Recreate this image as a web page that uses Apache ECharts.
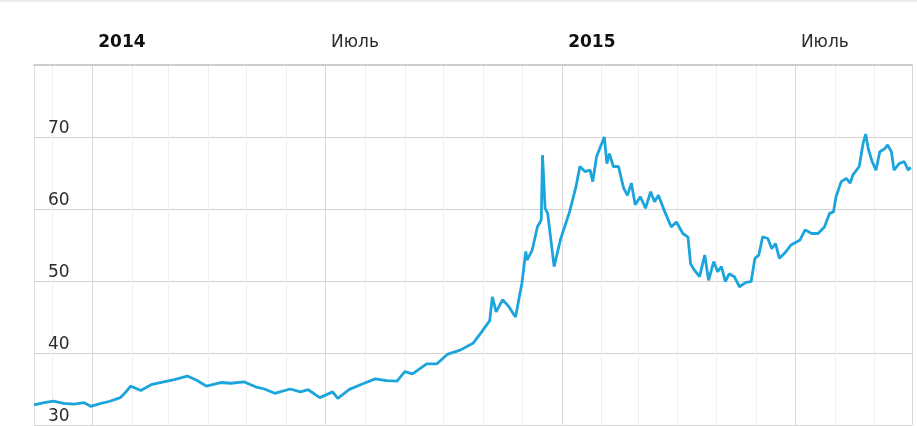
<!DOCTYPE html>
<html><head><meta charset="utf-8">
<script src="https://cdn.jsdelivr.net/npm/echarts@6/dist/echarts.min.js"></script>
<style>html,body{margin:0;padding:0;background:#fff}#c{width:917px;height:426px}</style>
</head><body><div id="c"></div>
<script>
const dates = ['2013-11-17','2013-11-25','2013-12-02','2013-12-10','2013-12-18','2013-12-26','2013-12-31',
'2014-01-08','2014-01-15','2014-01-23','2014-01-27','2014-01-31','2014-02-08','2014-02-16','2014-02-23',
'2014-03-06','2014-03-16','2014-03-23','2014-03-31','2014-04-11','2014-04-19','2014-04-29','2014-05-08',
'2014-05-15','2014-05-23','2014-06-04','2014-06-12','2014-06-18','2014-06-27','2014-07-07','2014-07-11',
'2014-07-20','2014-07-30','2014-08-09','2014-08-18','2014-08-26','2014-09-01','2014-09-07','2014-09-18',
'2014-09-26','2014-10-04','2014-10-14','2014-10-24','2014-10-31','2014-11-06','2014-11-08','2014-11-11',
'2014-11-16','2014-11-21','2014-11-26','2014-12-01','2014-12-04','2014-12-05','2014-12-09','2014-12-13',
'2014-12-16','2014-12-17','2014-12-19','2014-12-21','2014-12-26','2014-12-31','2015-01-07','2015-01-12',
'2015-01-15','2015-01-19','2015-01-23','2015-01-25','2015-01-28','2015-02-01','2015-02-03','2015-02-05',
'2015-02-07','2015-02-10','2015-02-14','2015-02-18','2015-02-21','2015-02-24','2015-02-27','2015-03-03',
'2015-03-07','2015-03-11','2015-03-14','2015-03-17','2015-03-22','2015-03-27','2015-03-31','2015-04-05',
'2015-04-09','2015-04-11','2015-04-14','2015-04-18','2015-04-22','2015-04-25','2015-04-29','2015-05-02',
'2015-05-05','2015-05-08','2015-05-11','2015-05-15','2015-05-19','2015-05-24','2015-05-28','2015-05-31',
'2015-06-03','2015-06-06','2015-06-10','2015-06-13','2015-06-16','2015-06-19','2015-06-23','2015-06-28',
'2015-07-05','2015-07-09','2015-07-14','2015-07-19','2015-07-24','2015-07-28','2015-07-31','2015-08-02',
'2015-08-06','2015-08-10','2015-08-13','2015-08-15','2015-08-20','2015-08-23','2015-08-25','2015-08-27',
'2015-08-30','2015-09-02','2015-09-05','2015-09-09','2015-09-11','2015-09-14','2015-09-16','2015-09-20',
'2015-09-24','2015-09-27','2015-09-29'];
const rates = [32.8,33.1,33.3,33.0,32.9,33.1,32.6,
33.0,33.3,33.8,34.5,35.4,34.8,35.6,35.9,
36.3,36.8,36.25,35.4,35.9,35.8,36.0,35.3,
35.0,34.4,35.0,34.6,34.9,33.8,34.6,33.7,
34.95,35.7,36.4,36.15,36.1,37.4,37.1,38.5,
38.5,39.8,40.4,41.35,43.0,44.5,47.8,45.7,
47.4,46.4,45.0,49.7,54.1,52.9,54.3,57.5,
58.5,67.5,60.1,59.4,52.0,55.8,59.6,63.1,
65.9,65.2,65.4,63.8,67.3,69.1,70.0,66.3,
67.7,65.9,65.9,62.9,61.9,63.6,60.6,61.7,
60.1,62.4,61.0,61.9,59.6,57.5,58.2,56.6,
56.1,52.4,51.5,50.6,53.6,50.1,52.7,51.3,
52.0,49.9,51.0,50.6,49.2,49.8,49.9,53.15,
53.6,56.15,55.9,54.5,55.2,53.15,53.85,55.0,
55.7,57.1,56.6,56.6,57.5,59.4,59.6,61.7,
63.8,64.25,63.6,64.7,65.9,69.1,70.4,68.4,
66.6,65.4,67.95,68.4,68.9,67.95,65.4,66.3,
66.6,65.4,65.8];
const xTickDates = ['2014-01-01','2014-07-01','2015-01-01','2015-07-01'];
const xTickLabels = ['2014','Июль','2015','Июль'];
const yTicks = [30,40,50,60,70];
const xRange = ['2013-11-17','2015-09-30'];
const yRange = [30,80];

const DAY = 86400000;
function key(t){const d=new Date(t);return d.getFullYear()+'-'+String(d.getMonth()+1).padStart(2,'0')+'-'+String(d.getDate()).padStart(2,'0');}
const chart = echarts.init(document.getElementById('c'), null, {renderer:'canvas'});
chart.setOption({
  animation:false,
  backgroundColor:'#fff',
  textStyle:{fontFamily:'DejaVu Sans'},
  graphic:[{type:'rect',shape:{x:0,y:0,width:917,height:2},style:{fill:'#ececec'},silent:true}],
  grid:{left:34,right:5,top:65,bottom:1,containLabel:false},
  xAxis:[{
    type:'time', position:'top', min:xRange[0], max:xRange[1],
    minInterval:30*DAY, maxInterval:31*DAY, splitNumber:22,
    axisLine:{show:true,lineStyle:{color:'#cdcdcd',width:2}},
    axisTick:{show:false},
    axisLabel:{interval:0, margin:14, padding:[0,0,0,60], color:'#2b2b2b', fontSize:17, fontFamily:'DejaVu Sans',
      hideOverlap:false, showMinLabel:true, showMaxLabel:true,
      formatter:function(v){const i=xTickDates.indexOf(key(v)); if(i<0) return ''; const s=xTickLabels[i]; return /^\d{4}$/.test(s)?'{b|'+s+'}':s;},
      rich:{b:{fontWeight:'bold',fontSize:17,color:'#111',fontFamily:'DejaVu Sans'}}},
    splitLine:{show:true,lineStyle:{color:'#efefef',width:1}}
  },{
    type:'time', position:'top', min:xRange[0], max:xRange[1],
    minInterval:182*DAY, maxInterval:182.5*DAY,
    axisLine:{show:false}, axisTick:{show:false}, axisLabel:{show:false},
    splitLine:{show:true,lineStyle:{color:'#d9d9d9',width:1}}
  }],
  yAxis:{
    type:'value', min:yRange[0], max:yRange[1], interval:10,
    axisLine:{show:true,lineStyle:{color:'#dedede',width:1}},
    axisTick:{show:false},
    axisLabel:{inside:true, margin:14, verticalAlign:'bottom', color:'#2b2b2b', fontSize:17, fontFamily:'DejaVu Sans',
      formatter:function(v){return yTicks.indexOf(v)>=0?String(v):'';}},
    splitLine:{show:true,lineStyle:{color:'#d2d2d2',width:1}}
  },
  series:[{
    type:'line', xAxisIndex:0, yAxisIndex:0,
    data:dates.map(function(d,i){return [d,rates[i]];}),
    showSymbol:false, symbol:'none', smooth:false, z:3,
    lineStyle:{color:'#1ca4dd',width:2.8}, itemStyle:{color:'#1ca4dd'}
  }]
});
</script></body></html>
